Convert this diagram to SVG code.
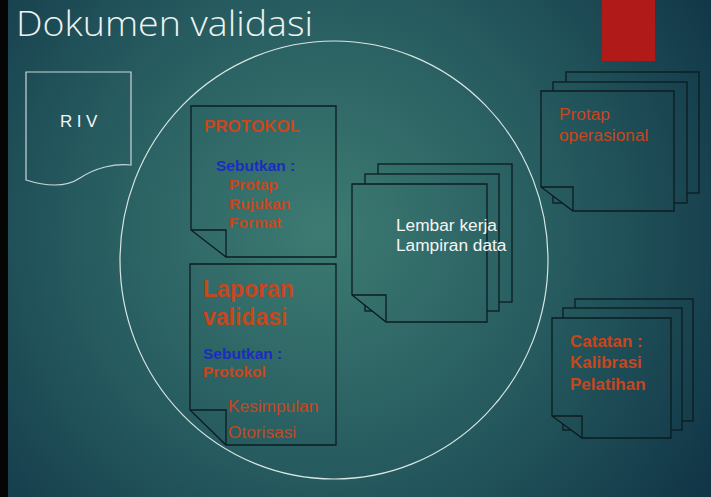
<svg xmlns="http://www.w3.org/2000/svg" width="711" height="497" viewBox="0 0 711 497">
<defs>
<radialGradient id="bg" gradientUnits="userSpaceOnUse" cx="320" cy="230" r="460">
<stop offset="0" stop-color="#3d7b72"/>
<stop offset="0.55" stop-color="#25595e"/>
<stop offset="1" stop-color="#113647"/>
</radialGradient>
<style>
.doc{fill:url(#bg);stroke:#0c1c20;stroke-width:1.3}
.fold{fill:none;stroke:#0c1c20;stroke-width:1.3}
.or{fill:#c8461c;font-family:"Liberation Sans",Arial,sans-serif}
.bl{fill:#1a2dbf;font-family:"Liberation Sans",Arial,sans-serif;font-weight:bold}
.wt{fill:#f4f6f6;font-family:"Liberation Sans",Arial,sans-serif}
</style>
</defs>
<rect x="0" y="0" width="711" height="497" fill="url(#bg)"/>
<rect x="0" y="0" width="8" height="497" fill="#050505"/>
<rect x="602" y="0" width="53" height="61" fill="#b01a18"/>
<text x="16" y="36" font-family="'Open Sans','Noto Sans',sans-serif" font-weight="300" font-size="34" fill="#eef2f2" textLength="297" lengthAdjust="spacingAndGlyphs">Dokumen validasi</text>

<g id="circle">
<ellipse cx="334" cy="260" rx="214" ry="219" fill="none" stroke="#d8e6e4" stroke-width="1.2"/>
</g>

<g id="riv">
<path d="M26 72 H131 V165 C115 163 95 168 80 178 C65 188 45 186 26 180 Z" fill="none" stroke="#c8d8da" stroke-width="1.2"/>
<text class="wt" x="81" y="127" font-size="17" text-anchor="middle" letter-spacing="4.5">RIV</text>
</g>

<g id="protokol">
<path class="doc" d="M191 106 H336 V257 H226 L191 230 Z"/>
<path class="fold" d="M191 230 H226 V257"/>
<text class="or" x="204" y="132" font-size="17" font-weight="bold">PROTOKOL</text>
<text class="bl" x="216" y="171" font-size="15.5">Sebutkan :</text>
<text class="or" x="229" y="190" font-size="15.5" font-weight="bold">Protap</text>
<text class="or" x="229" y="209" font-size="15.5" font-weight="bold">Rujukan</text>
<text class="or" x="229" y="228" font-size="15.5" font-weight="bold">Format</text>
</g>

<g id="laporan">
<path class="doc" d="M190 264 H336 V445 H226 L190 410 Z"/>
<path class="fold" d="M190 410 H226 V445"/>
<text class="or" x="203" y="297" font-size="23" font-weight="bold">Laporan</text>
<text class="or" x="203" y="325" font-size="23" font-weight="bold">validasi</text>
<text class="bl" x="203" y="359" font-size="15.5">Sebutkan :</text>
<text class="or" x="203" y="377" font-size="15.5" font-weight="bold">Protokol</text>
<text class="or" x="228" y="412" font-size="17.3">Kesimpulan</text>
<text class="or" x="228" y="438" font-size="17.3">Otorisasi</text>
</g>

<g id="lembar">
<rect class="doc" x="378" y="164" width="134" height="138"/>
<rect class="doc" x="365" y="174" width="134" height="137"/>
<path class="doc" d="M352 184 H487 V322 H386 L352 295 Z"/>
<path class="fold" d="M352 295 H386 V322"/>
<text class="wt" x="396" y="231" font-size="17.3">Lembar kerja</text>
<text class="wt" x="396" y="251" font-size="17.3">Lampiran data</text>
</g>

<g id="protap">
<rect class="doc" x="566" y="72" width="133" height="121"/>
<rect class="doc" x="553" y="82" width="134" height="121"/>
<path class="doc" d="M541 91 H674 V211 H573 L541 187 Z"/>
<path class="fold" d="M541 187 H573 V211"/>
<text class="or" x="559" y="120" font-size="17.3">Protap</text>
<text class="or" x="559" y="141" font-size="17.3">operasional</text>
</g>

<g id="catatan">
<rect class="doc" x="575" y="299" width="118" height="122"/>
<rect class="doc" x="563" y="308" width="119" height="122"/>
<path class="doc" d="M552 318 H671 V438 H582 L552 416 Z"/>
<path class="fold" d="M552 416 H582 V438"/>
<text class="or" x="570" y="347" font-size="17" font-weight="bold">Catatan :</text>
<text class="or" x="570" y="368" font-size="17" font-weight="bold">Kalibrasi</text>
<text class="or" x="570" y="390" font-size="17" font-weight="bold">Pelatihan</text>
</g>
<g id="connectors"></g>
</svg>
